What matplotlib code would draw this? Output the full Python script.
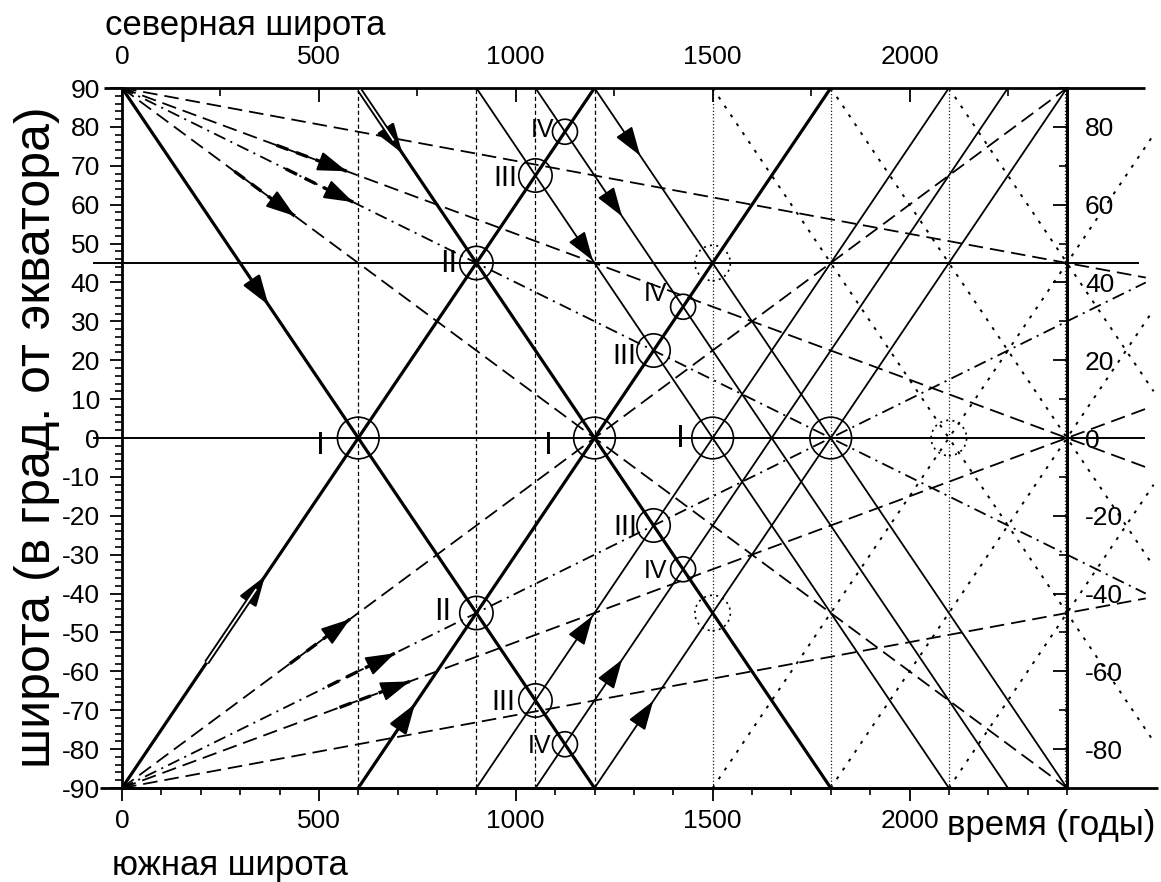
import numpy as np
import matplotlib
matplotlib.use('Agg')
import matplotlib.pyplot as plt
from matplotlib.ticker import MultipleLocator

plt.rcParams['font.family'] = ['Liberation Sans', 'DejaVu Sans']
plt.rcParams['lines.scale_dashes'] = False
plt.rcParams['axes.unicode_minus'] = False

# time axis, years
X_AXIS_END = 2400     # right latitude axis sits here
X_LINE_END = 2600     # fan lines run on past the right axis
X_DOT_END = 2620
TRANSIT = 1200        # pole to pole, years

# solid tracks: year at which each leaves the north (+90) or south (-90) pole
from_north_thick = [0, 600]
from_north_thin = [900, 1050, 1200]
from_south_thick = [0, 600]
from_south_thin = [900, 1050, 1200]

# dotted tracks of the next cycle
dotted_from_north = [1500, 1800, 2100]
dotted_from_south = [1500, 1800, 2100]

# straight fans out of the poles at year 0: latitude reached at year 2400
fan_north_dashed = [45, 0, -90]
fan_north_dashdot = [-30]
fan_south_dashed = [-45, 0, 90]
fan_south_dashdot = [30]

vlines_dashed = [600, 900, 1050, 1200]
vlines_dotted = [1500, 1800, 2100, 2400]
hlines = [45, 0]

# crossing points
node_year = [600, 1200, 1500, 1800, 900, 900, 1050, 1050, 1350, 1350, 1125, 1125, 1425, 1425]
node_lat = [0, 0, 0, 0, 45, -45, 67.5, -67.5, 22.5, -22.5, 78.75, -78.75, 33.75, -33.75]
node_label = ['I', 'I', 'I', '', 'II', 'II', 'III', 'III', 'III', 'III', 'IV', 'IV', 'IV', 'IV']
weak_year = [1500, 1500, 2100]
weak_lat = [45, -45, 0]

# arrow tips (year) on the tracks
arrows_from_north = {0: 372, 600: 712, 900: 1196, 1050: 1270, 1200: 1316}
arrows_from_south = {0: 363, 600: 744, 900: 1195, 1050: 1270, 1200: 1349}
arrows_fan_north = {0: 571, -30: 587, -90: 439}
arrows_fan_south = {90: 579, 30: 693, 0: 731}
# doubled shafts ahead of two arrows: (pole start, from year)
double_north = {600: 603}
double_south = {0: 215}

# layout of the numeral labels, offset from the circle in points
label_offset = [(-27, -6), (-33, -6), (-23, -1), (0, 0), (-20, -1), (-24, 1),
                (-22, -2), (-23, -1), (-21, -4), (-20, -1), (-16, 1), (-18, -1),
                (-20, 9), (-20, -1)]
label_size = {'I': 23, 'II': 22, 'III': 21, 'IV': 18}
circle_size = {'I': 900, '': 900, 'II': 576, 'III': 576, 'IV': 324}

DASH = (0, (10.5, 5))
DASHDOT = (0, (9, 4, 1.5, 4))
FINE_DASH = (0, (3, 2))
FINE_DOT = (0, (0.8, 1.6))
DOT = (0, (2.2, 5.5))

fig = plt.figure(figsize=(11.61, 8.82), dpi=100)
ax = fig.add_axes([122 / 1161, 94 / 882, 945 / 1161, 700 / 882])
ax.set_xlim(0, X_AXIS_END)
ax.set_ylim(-90, 90)


def track(start, north, x_end=None):
    sign = -1 if north else 1
    k = sign * 180 / TRANSIT
    y0 = 90 if north else -90
    x1 = start + TRANSIT if x_end is None else x_end
    return np.array([start, x1]), np.array([y0, y0 + k * (x1 - start)])


def fan(end_lat, north):
    y0 = 90 if north else -90
    k = (end_lat - y0) / X_AXIS_END
    x1 = X_LINE_END if abs(y0 + k * X_LINE_END) <= 90 else X_AXIS_END
    return np.array([0, x1]), np.array([y0, y0 + k * x1])


def at(xs, ys, x):
    return ys[0] + (ys[1] - ys[0]) / (xs[1] - xs[0]) * (x - xs[0])


def arrow(xs, ys, x_tip, back=22, lw=1.2, shaft=0):
    tip = (x_tip, at(xs, ys, x_tip))
    p0 = ax.transData.transform(tip)
    p1 = ax.transData.transform((x_tip - 50, at(xs, ys, x_tip - 50)))
    d = (p1 - p0) / np.hypot(*(p1 - p0))
    if shaft:
        # heavier dashed run leading into the head
        tail = ax.transData.inverted().transform(p0 + d * shaft)
        ax.plot([tail[0], x_tip], [tail[1], tip[1]], color='black', lw=2.4,
                ls=(0, (9, 6)), solid_capstyle='butt')
    ax.annotate('', xy=tip, xytext=(d[0] * back * 0.72, d[1] * back * 0.72),
                textcoords='offset points', annotation_clip=False,
                arrowprops=dict(arrowstyle='-|>,head_length=0.9,head_width=0.3',
                                mutation_scale=20, color='black', lw=lw,
                                shrinkA=0, shrinkB=0))


def doubled(xs, ys, x0, x1):
    line_x = [x0, x1]
    line_y = [at(xs, ys, x0), at(xs, ys, x1)]
    ax.plot(line_x, line_y, color='black', lw=4.0, solid_capstyle='butt', zorder=3)
    ax.plot(line_x, line_y, color='white', lw=1.3, solid_capstyle='butt', zorder=3)


# grid of reference years and latitudes
for x in vlines_dashed:
    ax.plot([x, x], [-90, 90], color='black', lw=0.9, ls=FINE_DASH)
for x in vlines_dotted:
    ax.plot([x - 6 if x == X_AXIS_END else x] * 2, [-90, 90], color='black', lw=0.9, ls=FINE_DOT)
for y in hlines:
    ax.plot([-70, 2580 if y else 2595], [y, y], color='black', lw=1.4, clip_on=False)
ax.plot([-45, 2598], [90, 90], color='black', lw=2.0, clip_on=False, solid_capstyle='butt')
ax.plot([-55, 2630], [-90, -90], color='black', lw=2.0, clip_on=False, solid_capstyle='butt')

# solid tracks
for s in from_north_thick:
    ax.plot(*track(s, True), color='black', lw=2.3)
for s in from_south_thick:
    ax.plot(*track(s, False), color='black', lw=2.3)
for s in from_north_thin:
    ax.plot(*track(s, True), color='black', lw=1.3)
for s in from_south_thin:
    ax.plot(*track(s, False), color='black', lw=1.3)

# dotted next cycle
for s in dotted_from_north:
    ax.plot(*track(s, True, X_DOT_END), color='black', lw=1.4, ls=DOT, clip_on=False)
for s in dotted_from_south:
    ax.plot(*track(s, False, X_DOT_END), color='black', lw=1.4, ls=DOT, clip_on=False)

# fans from the poles
for lat in fan_north_dashed:
    ax.plot(*fan(lat, True), color='black', lw=1.3, ls=DASH, clip_on=False)
for lat in fan_north_dashdot:
    ax.plot(*fan(lat, True), color='black', lw=1.3, ls=DASHDOT, clip_on=False)
for lat in fan_south_dashed:
    ax.plot(*fan(lat, False), color='black', lw=1.3, ls=DASH, clip_on=False)
for lat in fan_south_dashdot:
    ax.plot(*fan(lat, False), color='black', lw=1.3, ls=DASHDOT, clip_on=False)

# arrows
for s, xt in arrows_from_north.items():
    arrow(*track(s, True), xt, lw=2 if s in from_north_thick else 1.3)
for s, xt in arrows_from_south.items():
    arrow(*track(s, False), xt, lw=2 if s in from_south_thick else 1.3)
for lat, xt in arrows_fan_north.items():
    arrow(*fan(lat, True), xt, back=18, lw=1.5, shaft=75)
for lat, xt in arrows_fan_south.items():
    arrow(*fan(lat, False), xt, back=18, lw=1.5, shaft=75)
for s, x0 in double_north.items():
    doubled(*track(s, True), x0, arrows_from_north[s] - 22)
for s, x0 in double_south.items():
    doubled(*track(s, False), x0, arrows_from_south[s] - 22)

# crossing points
for x, y, lab, off in zip(node_year, node_lat, node_label, label_offset):
    ax.scatter([x], [y], s=circle_size[lab], facecolors='none', edgecolors='black',
               linewidths=1.2, zorder=5)
    if lab:
        ax.annotate(lab, (x, y), xytext=off, textcoords='offset points',
                    ha='center', va='center', fontsize=label_size[lab])
ax.scatter(weak_year, weak_lat, s=650, facecolors='none', edgecolors='black',
           linewidths=1.2, linestyle=(0, (1.5, 3)), zorder=5)

# axes: left latitude, bottom time
ax.yaxis.set_major_locator(MultipleLocator(10))
ax.yaxis.set_minor_locator(MultipleLocator(2))
ax.xaxis.set_major_locator(MultipleLocator(500))
ax.xaxis.set_minor_locator(MultipleLocator(100))
ax.tick_params(axis='both', which='major', direction='out', length=9, width=1.3,
               labelsize=19, pad=6)
ax.tick_params(axis='both', which='minor', direction='out', length=5, width=1.2)
ax.tick_params(axis='y', which='major', pad=7)
for side in ['left', 'bottom', 'right']:
    ax.spines[side].set_linewidth(2.0)
ax.spines['top'].set_visible(False)

# top time axis
top = ax.secondary_xaxis('top')
top.set_xticks([0, 500, 1000, 1500, 2000])
top.xaxis.set_minor_locator(MultipleLocator(250))
top.tick_params(which='major', direction='in', length=10, width=1.3, labelsize=19, pad=14)
top.tick_params(which='minor', direction='in', length=6, width=1.2)
top.spines['top'].set_visible(False)

# right latitude axis
right = ax.twinx()
right.set_ylim(-90, 90)
right.set_yticks(range(-80, 81, 20))
right.yaxis.set_minor_locator(MultipleLocator(10))
right.tick_params(which='major', direction='in', length=10, width=1.3, labelsize=19, pad=13)
right.tick_params(which='minor', direction='in', length=6, width=1.2)
for side in ['left', 'top', 'bottom']:
    right.spines[side].set_visible(False)
right.spines['right'].set_linewidth(2.0)

fig.text(37 / 1161, 1 - 437 / 882, 'широта (в град. от экватора)', rotation=90,
         ha='center', va='center', fontsize=36)
fig.text(105 / 1161, 1 - 35 / 882, 'северная широта', ha='left', va='baseline', fontsize=25)
fig.text(112 / 1161, 1 - 875 / 882, 'южная широта', ha='left', va='baseline', fontsize=25)
fig.text(947 / 1161, 1 - 835 / 882, 'время (годы)', ha='left', va='baseline', fontsize=25)

fig.savefig('out.png', dpi=100)
